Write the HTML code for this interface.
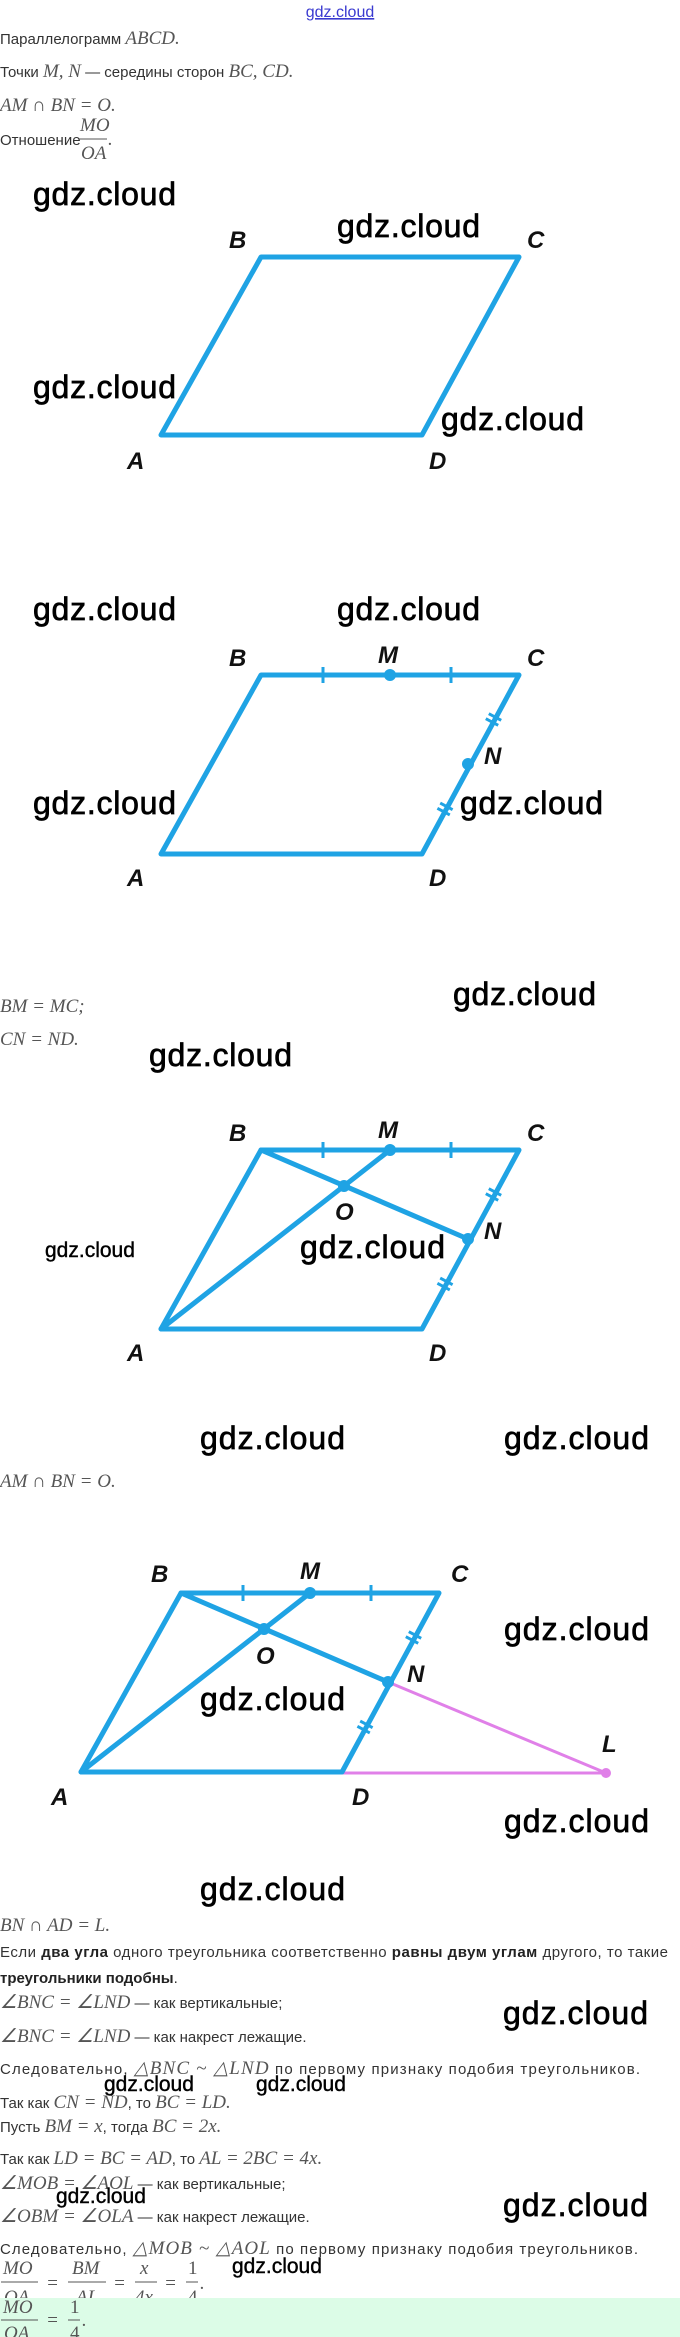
<!DOCTYPE html>
<html><head><meta charset="utf-8"><style>
html,body{margin:0;padding:0;background:#fff;}
svg{display:block;}
.t{font-family:"Liberation Sans",sans-serif;font-size:15px;fill:#333;}
.m{font-family:"Liberation Serif",serif;font-style:italic;font-size:19px;fill:#555;}
.b{font-weight:bold;fill:#222;}
.w{font-family:"Liberation Sans",sans-serif;font-size:32px;fill:#000;stroke:#000;stroke-width:0.7;}
.ws{font-family:"Liberation Sans",sans-serif;font-size:21px;fill:#000;stroke:#000;stroke-width:0.4;}
.L{font-family:"Liberation Sans",sans-serif;font-weight:bold;font-style:italic;font-size:24px;fill:#111;}
.s{stroke:#1fa3e4;stroke-width:5;fill:none;stroke-linejoin:round;stroke-linecap:round;}
.k{stroke:#1fa3e4;stroke-width:3;fill:none;}
</style></head><body>
<svg width="680" height="2337" viewBox="0 0 680 2337" xmlns="http://www.w3.org/2000/svg">
<text x="340" y="17" text-anchor="middle" style="font-family:'Liberation Sans',sans-serif;font-size:16px;fill:#3a3ad0;text-decoration:underline">gdz.cloud</text>
<text x="0" y="44" class="t">Параллелограмм <tspan class="m">ABCD.</tspan></text>
<text x="0" y="77" class="t">Точки <tspan class="m">M,  N</tspan> — середины сторон <tspan class="m">BC,  CD.</tspan></text>
<text x="0" y="111" class="m">AM ∩ BN = O.</text>
<text x="0" y="145" class="t">Отношение</text>
<text x="80" y="131" class="m">MO</text>
<line x1="79" y1="139" x2="107" y2="139" stroke="#555" stroke-width="1"/>
<text x="81" y="159" class="m">OA</text>
<text x="108" y="145" class="m">.</text>

<text x="33" y="205" class="w" textLength="143">gdz.cloud</text>
<text x="337" y="237" class="w" textLength="143">gdz.cloud</text>
<text x="33" y="398" class="w" textLength="143">gdz.cloud</text>
<polygon class="s" points="261,257 519,257 422,435 161,435"/>
<text x="441" y="430" class="w" textLength="143">gdz.cloud</text>
<text x="229" y="248" class="L">B</text>
<text x="527" y="248" class="L">C</text>
<text x="127" y="469" class="L">A</text>
<text x="429" y="469" class="L">D</text>

<g>
<polygon class="s" points="261,675 519,675 422,854 161,854"/>
<line class="k" x1="323" y1="667" x2="323" y2="683"/>
<line class="k" x1="451" y1="667" x2="451" y2="683"/>
<line class="k" x1="485.8" y1="718.7" x2="498.2" y2="725.3"/>
<line class="k" x1="488.8" y1="713.7" x2="501.2" y2="720.3"/>
<line class="k" x1="437.4" y1="808.3" x2="449.8" y2="814.9"/>
<line class="k" x1="440.2" y1="803.1" x2="452.6" y2="809.7"/>
<circle cx="390" cy="675" r="6" fill="#1fa3e4"/>
<circle cx="468" cy="764" r="6" fill="#1fa3e4"/>
</g>
<text x="33" y="620" class="w" textLength="143">gdz.cloud</text>
<text x="337" y="620" class="w" textLength="143">gdz.cloud</text>
<text x="33" y="814" class="w" textLength="143">gdz.cloud</text>
<text x="460" y="814" class="w" textLength="143">gdz.cloud</text>
<text x="229" y="666" class="L">B</text>
<text x="378" y="663" class="L">M</text>
<text x="527" y="666" class="L">C</text>
<text x="484" y="764" class="L">N</text>
<text x="127" y="886" class="L">A</text>
<text x="429" y="886" class="L">D</text>

<text x="0" y="1012" class="m">BM = MC;</text>
<text x="0" y="1045" class="m">CN = ND.</text>
<text x="453" y="1005" class="w" textLength="143">gdz.cloud</text>
<text x="149" y="1066" class="w" textLength="143">gdz.cloud</text>

<g transform="translate(0,475)">
<polygon class="s" points="261,675 519,675 422,854 161,854"/>
<polyline class="s" points="161,854 390,675"/>
<polyline class="s" points="261,675 468,764"/>
<line class="k" x1="323" y1="667" x2="323" y2="683"/>
<line class="k" x1="451" y1="667" x2="451" y2="683"/>
<line class="k" x1="485.8" y1="718.7" x2="498.2" y2="725.3"/>
<line class="k" x1="488.8" y1="713.7" x2="501.2" y2="720.3"/>
<line class="k" x1="437.4" y1="808.3" x2="449.8" y2="814.9"/>
<line class="k" x1="440.2" y1="803.1" x2="452.6" y2="809.7"/>
<circle cx="390" cy="675" r="6" fill="#1fa3e4"/>
<circle cx="468" cy="764" r="6" fill="#1fa3e4"/>
<circle cx="344" cy="711" r="6" fill="#1fa3e4"/>
</g>
<text x="229" y="1141" class="L">B</text>
<text x="378" y="1138" class="L">M</text>
<text x="527" y="1141" class="L">C</text>
<text x="335" y="1220" class="L">O</text>
<text x="484" y="1239" class="L">N</text>
<text x="127" y="1361" class="L">A</text>
<text x="429" y="1361" class="L">D</text>
<text x="45" y="1257" class="ws">gdz.cloud</text>
<text x="300" y="1258" class="w" textLength="145">gdz.cloud</text>
<text x="200" y="1449" class="w" textLength="145">gdz.cloud</text>
<text x="504" y="1449" class="w" textLength="145">gdz.cloud</text>
<text x="0" y="1487" class="m">AM ∩ BN = O.</text>

<g transform="translate(-80,918)">
<line x1="468" y1="764" x2="686" y2="855" stroke="#e080e8" stroke-width="3"/>
<line x1="422" y1="855" x2="686" y2="855" stroke="#e080e8" stroke-width="3"/>
<circle cx="686" cy="855" r="5" fill="#e080e8"/>
<polygon class="s" points="261,675 519,675 422,854 161,854"/>
<polyline class="s" points="161,854 390,675"/>
<polyline class="s" points="261,675 468,764"/>
<line class="k" x1="323" y1="667" x2="323" y2="683"/>
<line class="k" x1="451" y1="667" x2="451" y2="683"/>
<line class="k" x1="485.8" y1="718.7" x2="498.2" y2="725.3"/>
<line class="k" x1="488.8" y1="713.7" x2="501.2" y2="720.3"/>
<line class="k" x1="437.4" y1="808.3" x2="449.8" y2="814.9"/>
<line class="k" x1="440.2" y1="803.1" x2="452.6" y2="809.7"/>
<circle cx="390" cy="675" r="6" fill="#1fa3e4"/>
<circle cx="468" cy="764" r="6" fill="#1fa3e4"/>
<circle cx="344" cy="711" r="6" fill="#1fa3e4"/>
</g>
<text x="151" y="1582" class="L">B</text>
<text x="300" y="1579" class="L">M</text>
<text x="451" y="1582" class="L">C</text>
<text x="256" y="1664" class="L">O</text>
<text x="407" y="1682" class="L">N</text>
<text x="602" y="1752" class="L">L</text>
<text x="51" y="1805" class="L">A</text>
<text x="352" y="1805" class="L">D</text>
<text x="504" y="1640" class="w" textLength="145">gdz.cloud</text>
<text x="200" y="1710" class="w" textLength="145">gdz.cloud</text>
<text x="504" y="1832" class="w" textLength="145">gdz.cloud</text>
<text x="200" y="1900" class="w" textLength="145">gdz.cloud</text>

<text x="0" y="1931" class="m">BN ∩ AD = L.</text>
<text x="0" y="1957" class="t" textLength="668">Если <tspan class="b">два угла</tspan> одного треугольника соответственно <tspan class="b">равны двум углам</tspan> другого, то такие</text>
<text x="0" y="1983" class="t"><tspan class="b">треугольники подобны</tspan>.</text>
<text x="0" y="2008" class="t"><tspan class="m">∠BNC = ∠LND</tspan> — как вертикальные;</text>
<text x="0" y="2042" class="t"><tspan class="m">∠BNC = ∠LND</tspan> — как накрест лежащие.</text>
<text x="503" y="2024" class="w" textLength="145">gdz.cloud</text>
<text x="0" y="2074" class="t" textLength="640">Следовательно, <tspan class="m">△BNC  ~ △LND</tspan> по первому признаку подобия треугольников.</text>
<text x="104" y="2091" class="ws">gdz.cloud</text>
<text x="256" y="2091" class="ws">gdz.cloud</text>
<text x="0" y="2108" class="t">Так как <tspan class="m">CN = ND</tspan>, то <tspan class="m">BC = LD.</tspan></text>
<text x="0" y="2132" class="t">Пусть <tspan class="m">BM = x</tspan>, тогда <tspan class="m">BC = 2x.</tspan></text>
<text x="0" y="2164" class="t">Так как <tspan class="m">LD = BC = AD</tspan>, то <tspan class="m">AL = 2BC = 4x.</tspan></text>
<text x="0" y="2189" class="t"><tspan class="m">∠MOB = ∠AOL</tspan> — как вертикальные;</text>
<text x="56" y="2203" class="ws">gdz.cloud</text>
<text x="0" y="2222" class="t"><tspan class="m">∠OBM = ∠OLA</tspan> — как накрест лежащие.</text>
<text x="503" y="2216" class="w" textLength="145">gdz.cloud</text>
<text x="0" y="2254" class="t" textLength="638">Следовательно, <tspan class="m">△MOB  ~ △AOL</tspan> по первому признаку подобия треугольников.</text>

<text x="3" y="2274" class="m">MO</text>
<line x1="1" y1="2282" x2="38" y2="2282" stroke="#555" stroke-width="1"/>
<text x="4" y="2303" class="m">OA</text>
<text x="46" y="2289" class="m">=</text>
<text x="72" y="2274" class="m">BM</text>
<line x1="68" y1="2282" x2="106" y2="2282" stroke="#555" stroke-width="1"/>
<text x="76" y="2303" class="m">AL</text>
<text x="113" y="2289" class="m">=</text>
<text x="140" y="2274" class="m">x</text>
<line x1="135" y1="2282" x2="157" y2="2282" stroke="#555" stroke-width="1"/>
<text x="135" y="2303" class="m">4x</text>
<text x="164" y="2289" class="m">=</text>
<text x="188" y="2274" class="m" style="font-style:normal">1</text>
<line x1="186" y1="2282" x2="198" y2="2282" stroke="#555" stroke-width="1"/>
<text x="188" y="2303" class="m" style="font-style:normal">4</text>
<text x="200" y="2289" class="m">.</text>
<text x="232" y="2273" class="ws">gdz.cloud</text>

<rect x="0" y="2298" width="680" height="39" fill="#dcfce7"/>
<text x="3" y="2313" class="m">MO</text>
<line x1="1" y1="2320" x2="38" y2="2320" stroke="#555" stroke-width="1"/>
<text x="4" y="2339" class="m">OA</text>
<text x="46" y="2326" class="m">=</text>
<text x="70" y="2313" class="m" style="font-style:normal">1</text>
<line x1="68" y1="2320" x2="80" y2="2320" stroke="#555" stroke-width="1"/>
<text x="70" y="2339" class="m" style="font-style:normal">4</text>
<text x="82" y="2326" class="m">.</text>
</svg>
</body></html>
